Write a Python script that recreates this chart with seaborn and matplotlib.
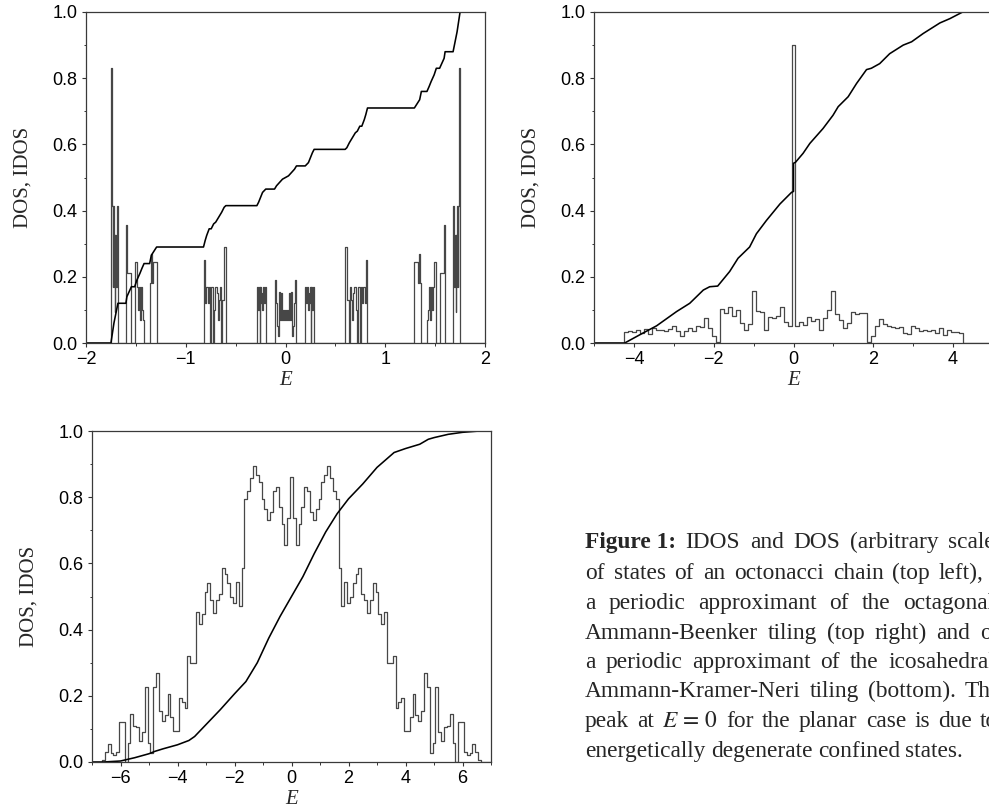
import numpy as np
import pandas as pd
import matplotlib
matplotlib.use("Agg")
import matplotlib.pyplot as plt
from matplotlib.ticker import MultipleLocator, FormatStrFormatter
from matplotlib.transforms import IdentityTransform
import seaborn as sns

# ---------------------------------------------------------------- data
# Octonacci chain: DOS as step breakpoints (energy, height to the right)
chain_e = [-1.750, -1.738, -1.731, -1.727, -1.721, -1.717, -1.710, -1.705, -1.698, -1.692, -1.684, -1.679,
           -1.602, -1.592, -1.545,
           -1.512, -1.492, -1.478, -1.468, -1.458, -1.447, -1.437, -1.427, -1.418,
           -1.362, -1.348, -1.338, -1.328, -1.292,
           -0.822, -0.812, -0.805, -0.795, -0.775, -0.765, -0.756, -0.748, -0.726, -0.716, -0.705, -0.690,
           -0.680, -0.670, -0.660, -0.642, -0.632, -0.616, -0.598,
           -0.287, -0.276, -0.268, -0.259, -0.252, -0.245, -0.239, -0.232, -0.225, -0.215, -0.208, -0.198,
           -0.110, -0.098, -0.088, -0.080, -0.068, -0.055, -0.045, -0.035, -0.025, -0.015, -0.008,
           0.008, 0.015, 0.025, 0.035, 0.045, 0.055, 0.068, 0.080, 0.088, 0.098, 0.110,
           0.198, 0.208, 0.215, 0.225, 0.232, 0.239, 0.245, 0.252, 0.259, 0.268, 0.276, 0.287,
           0.598, 0.616, 0.632, 0.642, 0.660, 0.670, 0.680, 0.690, 0.705, 0.716, 0.726, 0.748,
           0.756, 0.765, 0.775, 0.795, 0.805, 0.812, 0.822,
           1.292, 1.328, 1.338, 1.348, 1.362,
           1.418, 1.427, 1.437, 1.447, 1.458, 1.468, 1.478, 1.492, 1.512,
           1.545, 1.592, 1.602,
           1.679, 1.684, 1.692, 1.698, 1.705, 1.710, 1.717, 1.721, 1.727, 1.731, 1.738, 1.750]
chain_dos = [0.83, 0.415, 0.17, 0.415, 0.17, 0.325, 0.095, 0.325, 0.17, 0.415, 0.17, 0.0,
             0.355, 0.21, 0.0,
             0.245, 0.17, 0.10, 0.17, 0.07, 0.17, 0.10, 0.07, 0.0,
             0.18, 0.27, 0.18, 0.245, 0.0,
             0.25, 0.17, 0.12, 0.17, 0.12, 0.17, 0.0, 0.17, 0.0, 0.10, 0.17, 0.15,
             0.07, 0.13, 0.17, 0.0, 0.13, 0.29, 0.0,
             0.17, 0.10, 0.17, 0.0, 0.17, 0.12, 0.15, 0.10, 0.17, 0.12, 0.17, 0.0,
             0.19, 0.12, 0.05, 0.02, 0.155, 0.07, 0.15, 0.07, 0.10, 0.07, 0.10,
             0.07, 0.10, 0.07, 0.15, 0.07, 0.155, 0.02, 0.05, 0.12, 0.19, 0.0,
             0.17, 0.12, 0.17, 0.10, 0.15, 0.12, 0.17, 0.0, 0.17, 0.10, 0.17, 0.0,
             0.29, 0.13, 0.0, 0.17, 0.13, 0.07, 0.15, 0.17, 0.10, 0.0, 0.17, 0.0,
             0.17, 0.12, 0.17, 0.12, 0.17, 0.25, 0.0,
             0.245, 0.18, 0.27, 0.18, 0.0,
             0.07, 0.10, 0.17, 0.07, 0.17, 0.10, 0.17, 0.245, 0.0,
             0.21, 0.355, 0.0,
             0.17, 0.415, 0.17, 0.325, 0.095, 0.325, 0.17, 0.415, 0.17, 0.415, 0.83, 0.0]
chain_idos_e = [-2, -1.75, -1.735, -1.72, -1.70, -1.68, -1.60, -1.59, -1.545, -1.512, -1.49, -1.46, -1.44,
                -1.418, -1.362, -1.345, -1.292, -0.822, -0.805, -0.79, -0.765, -0.745, -0.72, -0.70,
                -0.67, -0.64, -0.615, -0.598, -0.287, -0.27, -0.25, -0.23, -0.198, -0.11, -0.09, -0.06,
                -0.03, 0.0, 0.03, 0.06, 0.09, 0.11, 0.198, 0.23, 0.25, 0.27, 0.287, 0.598, 0.615, 0.64,
                0.67, 0.70, 0.72, 0.745, 0.765, 0.79, 0.805, 0.822, 1.292, 1.345, 1.362, 1.418, 1.44,
                1.46, 1.49, 1.512, 1.545, 1.59, 1.60, 1.68, 1.70, 1.72, 1.735, 1.75, 2]
chain_idos = [0, 0, 0.03, 0.06, 0.09, 0.12, 0.12, 0.14, 0.17, 0.17, 0.19, 0.21, 0.225,
              0.24, 0.24, 0.265, 0.29, 0.29, 0.31, 0.325, 0.345, 0.345, 0.36, 0.365,
              0.38, 0.395, 0.41, 0.415, 0.415, 0.425, 0.44, 0.455, 0.465, 0.465, 0.475, 0.485,
              0.495, 0.50, 0.505, 0.515, 0.525, 0.535, 0.535, 0.545, 0.56, 0.575, 0.585, 0.585, 0.59, 0.605,
              0.62, 0.635, 0.64, 0.655, 0.655, 0.675, 0.69, 0.71, 0.71, 0.735, 0.76, 0.76, 0.775,
              0.79, 0.81, 0.83, 0.83, 0.86, 0.88, 0.88, 0.91, 0.94, 0.97, 1.0, 1.0]

# Ammann-Beenker approximant: DOS histogram (bin width 0.1 starting at -4.25)
ab_start, ab_width = -4.25, 0.1
ab_dos = [0.032, 0.035, 0.034, 0.040, 0.030, 0.043, 0.028, 0.045, 0.038, 0.040,
          0.036, 0.042, 0.050, 0.035, 0.022, 0.036, 0.046, 0.035, 0.052, 0.048,
          0.075, 0.045, 0.020, 0.002, 0.103, 0.090, 0.108, 0.082, 0.100, 0.060,
          0.040, 0.058, 0.157, 0.098, 0.095, 0.040, 0.080, 0.075, 0.082, 0.110,
          0.062, 0.050,
          0.90,
          0.050, 0.062, 0.055, 0.080, 0.065, 0.072, 0.040, 0.075, 0.100, 0.157,
          0.088, 0.070, 0.045, 0.060, 0.095, 0.088, 0.092, 0.090, 0.002, 0.022,
          0.050, 0.072, 0.058, 0.050, 0.048, 0.045, 0.048, 0.030, 0.028, 0.050,
          0.045, 0.036, 0.040, 0.035, 0.040, 0.030, 0.045, 0.025, 0.038, 0.034,
          0.032, 0.030]
ab_idos_e = [-5, -4.23, -3.85, -3.43, -2.93, -2.6, -2.26, -2.1, -1.9, -1.6, -1.39, -1.1, -0.93,
             -0.68, -0.34, -0.05, 0.0, 0.0, 0.05, 0.24, 0.41, 0.74, 0.99, 1.12, 1.37, 1.58, 1.83,
             1.95, 2.16, 2.41, 2.75, 2.96, 3.25, 3.67, 3.92, 4.24, 5]
ab_idos = [0, 0, 0.025, 0.052, 0.095, 0.12, 0.16, 0.17, 0.172, 0.216, 0.256, 0.29, 0.33,
           0.37, 0.42, 0.455, 0.458, 0.543, 0.546, 0.573, 0.603, 0.648, 0.688, 0.714, 0.744, 0.784, 0.826,
           0.83, 0.844, 0.874, 0.90, 0.91, 0.935, 0.967, 0.98, 1.0, 1.0]

# Ammann-Kramer-Neri approximant: DOS histogram (bin width 0.1 starting at -6.65)
akn_start, akn_width = -6.65, 0.1
akn_dos = [0.006, 0.03, 0.055, 0.026, 0.02, 0.03, 0.12, 0.12, 0.0, 0.058,
           0.144, 0.11, 0.105, 0.064, 0.09, 0.226, 0.056, 0.028, 0.228, 0.27,
           0.155, 0.125, 0.142, 0.204, 0.137, 0.094, 0.094, 0.194, 0.182, 0.164,
           0.32, 0.30, 0.30, 0.454, 0.416, 0.446, 0.515, 0.54, 0.49, 0.45,
           0.49, 0.507, 0.585, 0.567, 0.54, 0.50, 0.48, 0.545, 0.47, 0.585,
           0.794, 0.82, 0.857, 0.895, 0.867, 0.845, 0.795, 0.764, 0.731, 0.756,
           0.82, 0.83, 0.77, 0.72, 0.655, 0.738,
           0.86,
           0.738, 0.655, 0.72, 0.77, 0.83, 0.82,
           0.756, 0.731, 0.764, 0.795, 0.845, 0.867, 0.895, 0.857, 0.82, 0.794,
           0.585, 0.47, 0.545, 0.48, 0.50, 0.54, 0.567, 0.585, 0.507, 0.49,
           0.45, 0.49, 0.54, 0.515, 0.446, 0.416, 0.454, 0.30, 0.30, 0.32,
           0.164, 0.182, 0.194, 0.094, 0.094, 0.137, 0.204, 0.142, 0.125, 0.155,
           0.27, 0.228, 0.028, 0.056, 0.226, 0.09, 0.064, 0.105, 0.11, 0.144,
           0.058, 0.0, 0.12, 0.12, 0.03, 0.02, 0.026, 0.055, 0.03, 0.006]
akn_idos_e = [-7, -6.6, -6, -5.5, -5, -4.8, -4.5, -4, -3.6, -3.4, -3, -2.5, -2, -1.6, -1.2, -0.8,
              -0.4, 0, 0.4, 0.8, 1.2, 1.6, 2, 2.5, 3, 3.4, 3.6, 4, 4.5, 4.8, 5, 5.5, 6, 6.6, 7]
akn_idos = [0, 0, 0.003, 0.013, 0.025, 0.032, 0.04, 0.052, 0.065, 0.077, 0.113, 0.158, 0.206, 0.243,
            0.30, 0.374, 0.44, 0.50, 0.56, 0.63, 0.695, 0.75, 0.795, 0.84, 0.89, 0.92, 0.935, 0.947,
            0.96, 0.975, 0.98, 0.99, 0.996, 1.0, 1.0]

yticks = [0.0, 0.2, 0.4, 0.6, 0.8, 1.0]
ylabel = "DOS, IDOS"
xlabel = "E"

caption_lines = [
    ([("Figure 1:", "bold"), "IDOS", "and", "DOS", "(arbitrary", "scale)"], 948),
    (["of", "states", "of", "an", "octonacci", "chain", "(top", "left),"], 939),
    (["a", "periodic", "approximant", "of", "the", "octagonal"], 903),
    (["Ammann-Beenker", "tiling", "(top", "right)", "and", "of"], 980),
    (["a", "periodic", "approximant", "of", "the", "icosahedral"], 888),
    (["Ammann-Kramer-Neri", "tiling", "(bottom).", "The"], 965),
    (["peak", "at", "$E\\,=\\,0$", "for", "the", "planar", "case", "is", "due", "to"], 980),
    (["energetically", "degenerate", "confined", "states."], None),
]

# ---------------------------------------------------------------- style
sns.set_theme(style="ticks")
plt.rcParams['font.family'] = ['Liberation Sans', 'DejaVu Sans']
plt.rcParams['mathtext.fontset'] = 'stix'

W, H = 989, 808
fig = plt.figure(figsize=(W / 100, H / 100), dpi=100)


def px_axes(left, top, right, bottom):
    return fig.add_axes([left / W, 1 - bottom / H, (right - left) / W, (bottom - top) / H])


def step_frame(breaks, heights, lo, hi):
    xs = [lo] + list(breaks) + [hi]
    ys = [0.0] + list(heights) + [0.0]
    return pd.DataFrame({"E": xs, "DOS": ys})


def hist_frame(start, width, heights, lo, hi):
    edges = start + width * np.arange(len(heights) + 1)
    return step_frame(list(edges), list(heights) + [0.0], lo, hi)


dos_color = "#474747"


def draw_panel(ax, dos_df, idos_e, idos, xlim, xmaj, xmin):
    sns.lineplot(data=dos_df, x="E", y="DOS", ax=ax, estimator=None, sort=False,
                 drawstyle="steps-post", color=dos_color, linewidth=0.9)
    idf = pd.DataFrame({"E": idos_e, "IDOS": idos})
    sns.lineplot(data=idf, x="E", y="IDOS", ax=ax, estimator=None, sort=False,
                 color="black", linewidth=1.15)
    ax.set_xlim(*xlim)
    ax.set_ylim(0, 1)
    ax.xaxis.set_major_locator(MultipleLocator(xmaj))
    ax.xaxis.set_minor_locator(MultipleLocator(xmin))
    ax.set_yticks(yticks)
    ax.yaxis.set_minor_locator(MultipleLocator(0.1))
    ax.yaxis.set_major_formatter(FormatStrFormatter("%.1f"))
    ax.tick_params(which="major", direction="out", length=2.6, width=0.8, pad=3.5,
                   labelsize=13, color="#333333", labelcolor="black")
    ax.tick_params(which="minor", direction="out", length=1.8, width=0.7, color="#333333")
    for s in ax.spines.values():
        s.set_color("#3a3a3a")
        s.set_linewidth(0.9)
    ax.set_ylabel(ylabel, family="Liberation Serif", fontsize=15)
    ax.set_xlabel(xlabel, family="Liberation Serif", style="italic", fontsize=15)
    ax.yaxis.set_label_coords(-0.135, 0.5)
    ax.xaxis.set_label_coords(0.5, -0.128)
    ax.xaxis.label.set_va("baseline")
    ax.set_facecolor("white")


ax1 = px_axes(86, 12, 485, 343)
ax2 = px_axes(594, 12, 993, 343)
ax3 = px_axes(92, 431, 491, 762)

draw_panel(ax1, step_frame(chain_e, chain_dos, -2, 2), chain_idos_e, chain_idos, (-2, 2), 1, 0.5)
draw_panel(ax2, hist_frame(ab_start, ab_width, ab_dos, -5, 5), ab_idos_e, ab_idos, (-5, 5), 2, 1)
draw_panel(ax3, hist_frame(akn_start, akn_width, akn_dos, -7, 7), akn_idos_e, akn_idos, (-7, 7), 2, 1)

# ---------------------------------------------------------------- caption
renderer = fig.canvas.get_renderer()
cap_x0 = 585
cap_base = [548, 579, 609, 639, 668, 697, 727, 757]
cap_kw = dict(family="Liberation Serif", fontsize=16.8, va="baseline", ha="left",
              transform=IdentityTransform())

for (words, last_x), yb in zip(caption_lines, cap_base):
    y = H - yb
    items = []
    for w in words:
        weight = "normal"
        if isinstance(w, tuple):
            w, weight = w
        items.append(fig.text(0, y, w, fontweight=weight, **cap_kw))
    widths = [t.get_window_extent(renderer).width for t in items]
    if last_x is None:
        gap = 5.5
    else:
        gap = (last_x - cap_x0 - sum(widths[:-1])) / (len(items) - 1)
    x = cap_x0
    for t, wd in zip(items, widths):
        t.set_x(x)
        x += wd + gap

fig.savefig("out.png", dpi=100, facecolor="white")
